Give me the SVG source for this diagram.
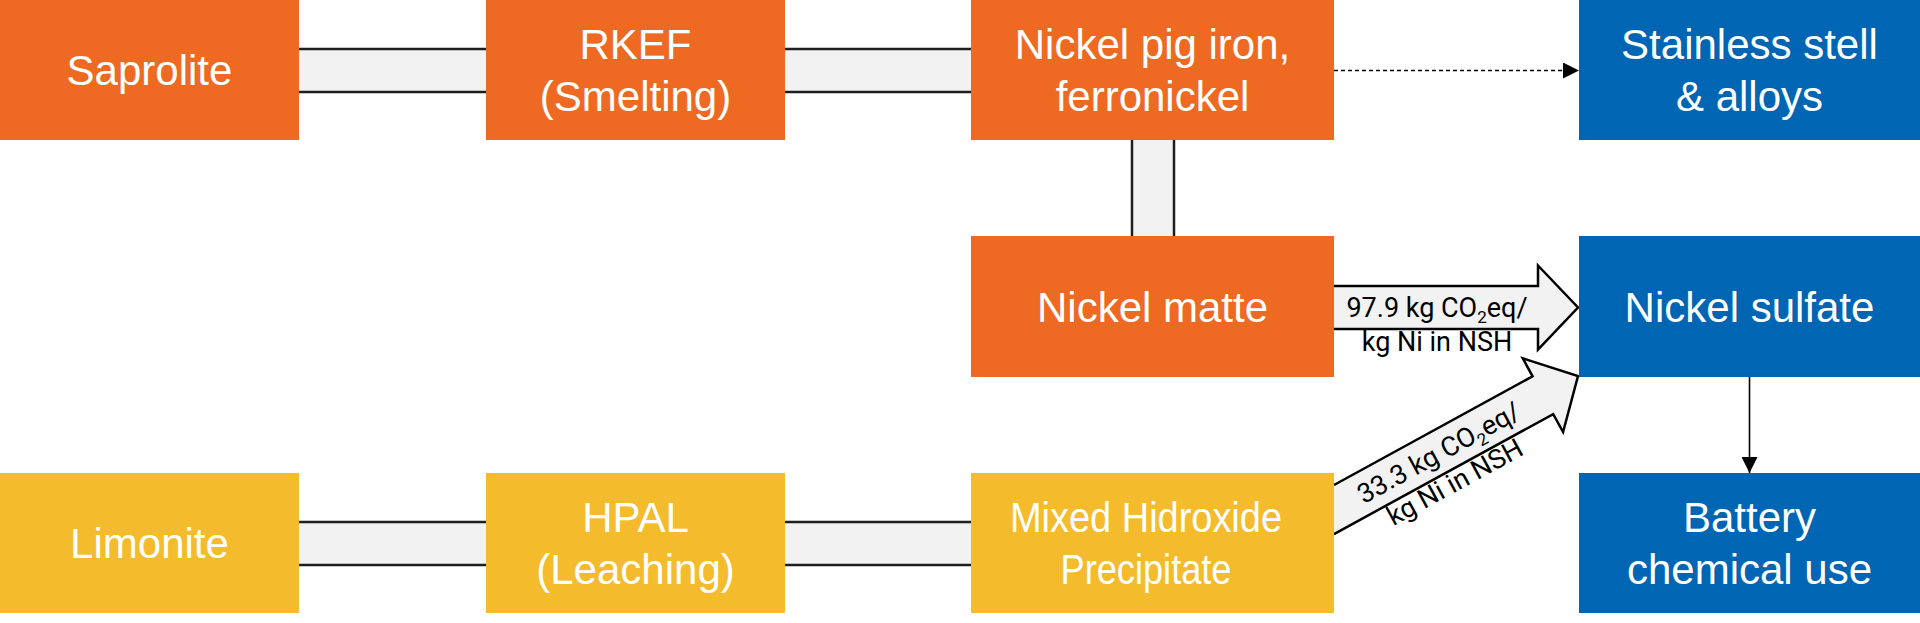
<svg xmlns="http://www.w3.org/2000/svg" width="1920" height="623" viewBox="0 0 1920 623">
  <style>
    .orange { fill: #ee6a22; }
    .yellow { fill: #f4bb2c; }
    .blue { fill: #0066b3; }
    .label { fill: #ffffff; font-family: "Liberation Sans", Arial, sans-serif; font-size: 42px; text-anchor: middle; }
    .bar { fill: #f2f2f2; }
    .barline { stroke: #1e1e1e; stroke-width: 2.5; fill: none; }
    .blockfill { fill: #f2f2f2; stroke: none; }
    .blockline { fill: none; stroke: #000000; stroke-width: 2.5; stroke-linejoin: miter; }
    .note { fill: #000000; font-family: Roboto, "Liberation Sans", sans-serif; font-size: 27px; text-anchor: middle; }
    .sub { font-size: 17px; }
    .thin { stroke: #000000; stroke-width: 1.6; fill: none; }
  </style>
  <defs>
    <marker id="head" markerUnits="userSpaceOnUse" markerWidth="16" markerHeight="16" viewBox="0 0 16 16" refX="16" refY="8" orient="auto">
      <path d="M0,0 L16,8 L0,16 Z" fill="#000000"/>
    </marker>
  </defs>

  <g id="connectors">
    <!-- Saprolite - RKEF -->
    <rect class="bar" x="299" y="49" width="187" height="43"/>
    <line class="barline" x1="299" y1="49" x2="486" y2="49"/>
    <line class="barline" x1="299" y1="92" x2="486" y2="92"/>
    <!-- RKEF - NPI -->
    <rect class="bar" x="785" y="49" width="186" height="43"/>
    <line class="barline" x1="785" y1="49" x2="971" y2="49"/>
    <line class="barline" x1="785" y1="92" x2="971" y2="92"/>
    <!-- NPI - Nickel matte -->
    <rect class="bar" x="1132" y="140" width="42" height="96"/>
    <line class="barline" x1="1132" y1="140" x2="1132" y2="236"/>
    <line class="barline" x1="1174" y1="140" x2="1174" y2="236"/>
    <!-- Limonite - HPAL -->
    <rect class="bar" x="299" y="522" width="187" height="43"/>
    <line class="barline" x1="299" y1="522" x2="486" y2="522"/>
    <line class="barline" x1="299" y1="565" x2="486" y2="565"/>
    <!-- HPAL - MHP -->
    <rect class="bar" x="785" y="522" width="186" height="43"/>
    <line class="barline" x1="785" y1="522" x2="971" y2="522"/>
    <line class="barline" x1="785" y1="565" x2="971" y2="565"/>
    <!-- NPI - Stainless (dashed) -->
    <line class="thin" x1="1334" y1="70.5" x2="1579" y2="70.5" stroke-dasharray="4 3" marker-end="url(#head)"/>
    <!-- Nickel sulfate - Battery -->
    <line class="thin" x1="1749.5" y1="377" x2="1749.5" y2="473" marker-end="url(#head)"/>
    <!-- Nickel matte - Nickel sulfate block arrow -->
    <polygon class="blockfill" points="1334,286 1538,286 1538,265.5 1578,307.5 1538,349.5 1538,329 1334,329"/>
    <polyline class="blockline" points="1334,286 1538,286 1538,265.5 1578,307.5 1538,349.5 1538,329 1334,329"/>
    <text class="note" x="1437" y="317">97.9 kg CO<tspan class="sub" dy="6">2</tspan><tspan dy="-6">eq/</tspan></text>
    <text class="note" x="1437" y="351">kg Ni in NSH</text>
    <!-- MHP - Nickel sulfate block arrow -->
    <polygon class="blockfill" points="1334,485 1532.6,376.3 1522.8,358.4 1578,376 1563.1,432 1553.2,414.1 1334,534.1"/>
    <polyline class="blockline" points="1334,485 1532.6,376.3 1522.8,358.4 1578,376 1563.1,432 1553.2,414.1 1334,534.1"/>
    <g transform="translate(1578,376) rotate(-28.7)">
      <text class="note" x="-159" y="9.5">33.3 kg CO<tspan class="sub" dy="6">2</tspan><tspan dy="-6">eq/</tspan></text>
      <text class="note" x="-159" y="43">kg Ni in NSH</text>
    </g>
  </g>

  <g id="saprolite">
    <rect class="orange" x="0" y="0" width="299" height="140"/>
    <text class="label" x="149.5" y="85">Saprolite</text>
  </g>
  <g id="rkef">
    <rect class="orange" x="486" y="0" width="299" height="140"/>
    <text class="label" x="635.5" y="59">RKEF</text>
    <text class="label" x="635.5" y="111">(Smelting)</text>
  </g>
  <g id="nickel-pig-iron">
    <rect class="orange" x="971" y="0" width="363" height="140"/>
    <text class="label" x="1152.5" y="59">Nickel pig iron,</text>
    <text class="label" x="1152.5" y="111">ferronickel</text>
  </g>
  <g id="stainless">
    <rect class="blue" x="1579" y="0" width="341" height="140"/>
    <text class="label" x="1749.5" y="59">Stainless stell</text>
    <text class="label" x="1749.5" y="111">&amp; alloys</text>
  </g>
  <g id="nickel-matte">
    <rect class="orange" x="971" y="236" width="363" height="141"/>
    <text class="label" x="1152.5" y="321.5">Nickel matte</text>
  </g>
  <g id="nickel-sulfate">
    <rect class="blue" x="1579" y="236" width="341" height="141"/>
    <text class="label" x="1749.5" y="321.5">Nickel sulfate</text>
  </g>
  <g id="limonite">
    <rect class="yellow" x="0" y="473" width="299" height="140"/>
    <text class="label" x="149.5" y="558">Limonite</text>
  </g>
  <g id="hpal">
    <rect class="yellow" x="486" y="473" width="299" height="140"/>
    <text class="label" x="635.5" y="532">HPAL</text>
    <text class="label" x="635.5" y="584">(Leaching)</text>
  </g>
  <g id="mhp">
    <rect class="yellow" x="971" y="473" width="363" height="140"/>
    <text class="label" x="1146" y="532" textLength="272" lengthAdjust="spacingAndGlyphs">Mixed Hidroxide</text>
    <text class="label" x="1146" y="584" textLength="171" lengthAdjust="spacingAndGlyphs">Precipitate</text>
  </g>
  <g id="battery">
    <rect class="blue" x="1579" y="473" width="341" height="140"/>
    <text class="label" x="1749.5" y="532">Battery</text>
    <text class="label" x="1749.5" y="584">chemical use</text>
  </g>
</svg>
